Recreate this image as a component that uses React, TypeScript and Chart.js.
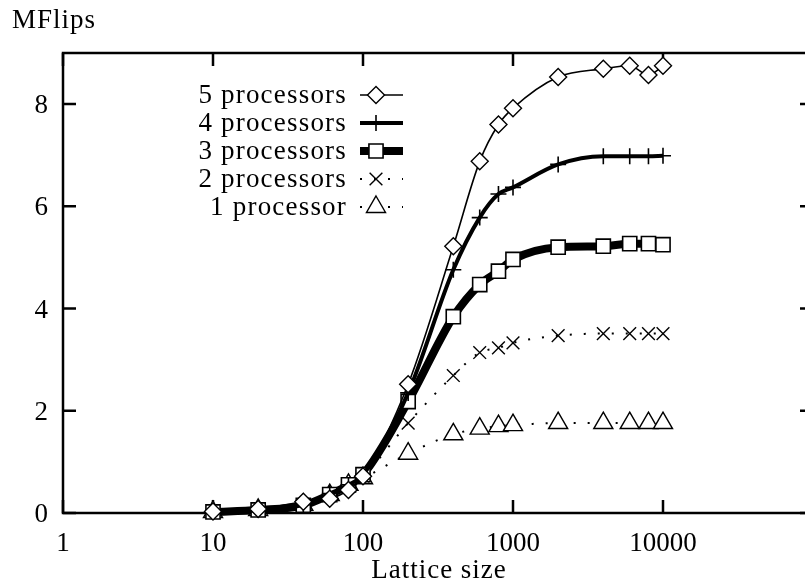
import React, { useEffect, useRef } from "react";
import { Chart, registerables } from "chart.js";

Chart.register(...registerables);

const latticeSizes = [10, 20, 40, 60, 80, 100, 200, 400, 600, 800, 1000, 2000, 4000, 6000, 8000, 10000];
const mflips5 = [0.03, 0.08, 0.22, 0.28, 0.45, 0.72, 2.52, 5.22, 6.88, 7.6, 7.92, 8.53, 8.69, 8.75, 8.57, 8.75];
const mflips4 = [0.02, 0.06, 0.16, 0.38, 0.55, 0.75, 2.35, 4.76, 5.78, 6.24, 6.37, 6.82, 6.98, 6.98, 6.98, 6.99];
const mflips3 = [0.02, 0.06, 0.15, 0.36, 0.55, 0.75, 2.18, 3.84, 4.47, 4.73, 4.96, 5.2, 5.22, 5.27, 5.27, 5.25];
const mflips2 = [0.02, 0.06, 0.16, 0.35, 0.52, 0.72, 1.76, 2.69, 3.14, 3.23, 3.33, 3.47, 3.51, 3.51, 3.51, 3.51];
const mflips1 = [0.02, 0.06, 0.16, 0.35, 0.55, 0.68, 1.16, 1.54, 1.65, 1.7, 1.72, 1.76, 1.76, 1.76, 1.76, 1.76];

const seriesLabels = ["5 processors", "4 processors", "3 processors", "2 processors", "1 processor"];
const xTickValues = [1, 10, 100, 1000, 10000];
const xTickLabels = ["1", "10", "100", "1000", "10000"];
const yTickValues = [0, 2, 4, 6, 8];
const yTickLabels = ["0", "2", "4", "6", "8"];
const yAxisTitle = "MFlips";
const xAxisTitle = "Lattice size";

const FONT = '27px "Liberation Serif", "Times New Roman", serif';

type Style = {
  lineWidth: number;
  dash: number[];
  shape: string;
  radius: number;
  pointWidth: number;
};

const styles: Style[] = [
  { lineWidth: 1.6, dash: [], shape: "rectRot", radius: 8.5, pointWidth: 1.4 },
  { lineWidth: 4, dash: [], shape: "cross", radius: 8, pointWidth: 1.6 },
  { lineWidth: 8, dash: [], shape: "rect", radius: 10, pointWidth: 1.6 },
  { lineWidth: 2, dash: [2, 12], shape: "crossRot", radius: 9, pointWidth: 1.4 },
  { lineWidth: 2, dash: [2, 12], shape: "triangle", radius: 11, pointWidth: 1.4 },
];

function drawShape(ctx: CanvasRenderingContext2D, shape: string, x: number, y: number, r: number) {
  ctx.beginPath();
  if (shape === "rectRot") {
    ctx.moveTo(x - r, y);
    ctx.lineTo(x, y - r);
    ctx.lineTo(x + r, y);
    ctx.lineTo(x, y + r);
    ctx.closePath();
    ctx.fill();
    ctx.stroke();
  } else if (shape === "rect") {
    const s = r * Math.SQRT1_2;
    ctx.rect(x - s, y - s, 2 * s, 2 * s);
    ctx.fill();
    ctx.stroke();
  } else if (shape === "cross") {
    ctx.moveTo(x - r, y);
    ctx.lineTo(x + r, y);
    ctx.moveTo(x, y - r);
    ctx.lineTo(x, y + r);
    ctx.stroke();
  } else if (shape === "crossRot") {
    const s = r * Math.SQRT1_2;
    ctx.moveTo(x - s, y - s);
    ctx.lineTo(x + s, y + s);
    ctx.moveTo(x - s, y + s);
    ctx.lineTo(x + s, y - s);
    ctx.stroke();
  } else if (shape === "triangle") {
    ctx.moveTo(x, y - r);
    ctx.lineTo(x + r * 0.866, y + r * 0.5);
    ctx.lineTo(x - r * 0.866, y + r * 0.5);
    ctx.closePath();
    ctx.fill();
    ctx.stroke();
  }
}

function setSpacing(ctx: any, px: number) {
  if ("letterSpacing" in ctx) ctx.letterSpacing = px + "px";
}

const framePlugin = {
  id: "gnuFrame",
  beforeDatasetsDraw(chart: any) {
    const { ctx, chartArea: a, scales } = chart;
    const xs = scales.x;
    const ys = scales.y;
    ctx.save();
    ctx.strokeStyle = "#000";
    ctx.fillStyle = "#000";
    ctx.lineWidth = 2.5;
    ctx.setLineDash([]);
    ctx.strokeRect(a.left, a.top, a.right - a.left, a.bottom - a.top);
    const tl = 13;
    ctx.beginPath();
    xTickValues.forEach((v) => {
      const px = xs.getPixelForValue(v);
      ctx.moveTo(px, a.bottom);
      ctx.lineTo(px, a.bottom - tl);
      ctx.moveTo(px, a.top);
      ctx.lineTo(px, a.top + tl);
    });
    yTickValues.forEach((v) => {
      const py = ys.getPixelForValue(v);
      ctx.moveTo(a.left, py);
      ctx.lineTo(a.left + tl, py);
      ctx.moveTo(a.right, py);
      ctx.lineTo(a.right - tl, py);
    });
    ctx.stroke();

    ctx.font = FONT;
    ctx.textBaseline = "alphabetic";
    ctx.textAlign = "center";
    setSpacing(ctx, 0);
    xTickValues.forEach((v, i) => {
      const px = xs.getPixelForValue(v);
      ctx.fillText(xTickLabels[i], px, a.bottom + 38);
    });
    ctx.textAlign = "right";
    yTickValues.forEach((v, i) => {
      const py = ys.getPixelForValue(v);
      ctx.fillText(yTickLabels[i], a.left - 15, py + 9);
    });
    setSpacing(ctx, 1);
    ctx.textAlign = "left";
    ctx.fillText(yAxisTitle, 12, 28);
    ctx.textAlign = "center";
    ctx.fillText(xAxisTitle, 439, 578);
    setSpacing(ctx, 0);
    ctx.restore();
  },
  afterDraw(chart: any) {
    const { ctx } = chart;
    ctx.save();
    ctx.font = FONT;
    ctx.fillStyle = "#000";
    ctx.strokeStyle = "#000";
    seriesLabels.forEach((label, i) => {
      const st = styles[i];
      const ry = 95 + 28 * i;
      ctx.textAlign = "right";
      ctx.textBaseline = "alphabetic";
      ctx.fillStyle = "#000";
      setSpacing(ctx, 1.2);
      ctx.fillText(label, 347, ry + 8);
      setSpacing(ctx, 0);
      ctx.lineWidth = st.lineWidth;
      ctx.setLineDash(st.dash);
      ctx.lineCap = "butt";
      ctx.beginPath();
      ctx.moveTo(360, ry);
      ctx.lineTo(403, ry);
      ctx.stroke();
      ctx.setLineDash([]);
      ctx.lineWidth = st.pointWidth;
      ctx.fillStyle = "#fff";
      drawShape(ctx, st.shape, 376, ry, st.radius);
    });
    ctx.restore();
  },
};

export default function App() {
  const ref = useRef<HTMLCanvasElement | null>(null);
  useEffect(() => {
    if (!ref.current) return;
    const series = [mflips5, mflips4, mflips3, mflips2, mflips1];
    const datasets = series.map((vals, i) => {
      const st = styles[i];
      return {
        label: seriesLabels[i],
        data: latticeSizes.map((x, k) => ({ x, y: vals[k] })),
        borderColor: "#000",
        backgroundColor: "#fff",
        borderWidth: st.lineWidth,
        borderDash: st.dash,
        borderCapStyle: "butt",
        cubicInterpolationMode: "monotone",
        pointStyle: st.shape,
        pointRadius: st.radius,
        pointBorderWidth: st.pointWidth,
        pointBorderColor: "#000",
        pointBackgroundColor: "#fff",
        clip: false,
      };
    });
    const chart = new Chart(ref.current, {
      type: "line",
      data: { datasets } as any,
      options: {
        responsive: false,
        animation: false,
        devicePixelRatio: 1,
        layout: { padding: { left: 63, top: 53, right: 17, bottom: 74 } },
        plugins: { legend: { display: false }, tooltip: { enabled: false } },
        events: [],
        scales: {
          x: { type: "logarithmic", min: 1, max: 100000, display: false },
          y: { type: "linear", min: 0, max: 9, display: false },
        },
      } as any,
      plugins: [framePlugin],
    });
    return () => chart.destroy();
  }, []);
  return (
    <div
      style={{
        position: "absolute",
        left: 0,
        top: 0,
        width: 805,
        height: 587,
        overflow: "hidden",
        background: "#fff",
      }}
    >
      <canvas ref={ref} width={830} height={587} style={{ display: "block" }} />
    </div>
  );
}
